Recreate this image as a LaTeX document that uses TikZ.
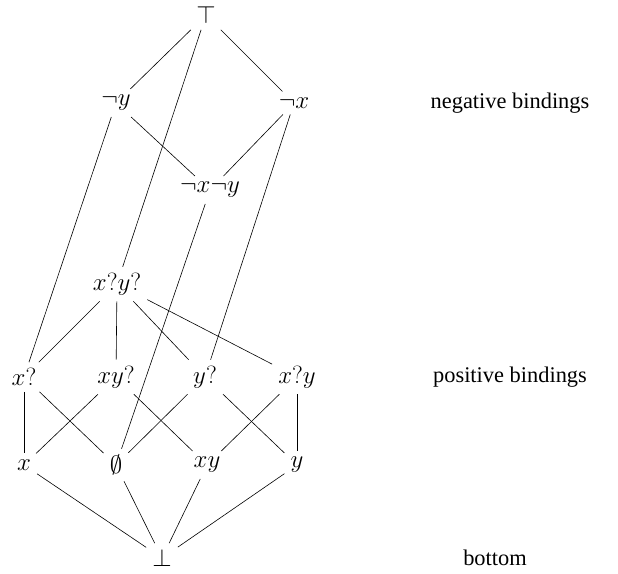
\documentclass[tikz,border=0pt]{standalone}
\usepackage{fontspec}
\setmainfont{Liberation Serif}
\begin{document}
\begin{tikzpicture}[x=1pt,y=-1pt,
  el/.style={inner sep=6pt,font=\fontsize{24}{28}\selectfont},
  lbl/.style={inner sep=0pt,font=\fontsize{22.4}{26}\selectfont},
  edge/.style={line width=0.6pt}]
\useasboundingbox (0,0) rectangle (618,573);
\node[el] (top) at (206,15) {$\top$};
\node[el] (ny) at (116,103) {$\neg y$};
\node[el] (nx) at (294,103) {$\neg x$};
\node[el] (nxny) at (210,190) {$\neg x\neg y$};
\node[el] (xqyq) at (117,284) {$x?y?$};
\node[el] (xq) at (24,377) {$x?$};
\node[el] (xyq) at (116,377) {$xy?$};
\node[el] (yq) at (205,377) {$y?$};
\node[el] (xqy) at (297,377) {$x?y$};
\node[el] (x) at (24,465) {$x$};
\node[el] (e) at (116,465) {$\emptyset$};
\node[el] (xy) at (207,465) {$xy$};
\node[el] (y) at (297,465) {$y$};
\node[el] (bot) at (162,558) {$\bot$};
\node[lbl] (l1) at (510,103) {negative bindings};
\node[lbl] (l2) at (510,377) {positive bindings};
\node[lbl] (l3) at (495,558) {bottom};
\draw[edge] (top) -- (ny);
\draw[edge] (top) -- (nx);
\draw[edge] (top) -- (xqyq);
\draw[edge] (ny) -- (nxny);
\draw[edge] (nx) -- (nxny);
\draw[edge] (ny) -- (xq);
\draw[edge] (nx) -- (yq);
\draw[edge] (nxny) -- (e);
\draw[edge] (xqyq) -- (xq);
\draw[edge] (xqyq) -- (xyq);
\draw[edge] (xqyq) -- (yq);
\draw[edge] (xqyq) -- (xqy);
\draw[edge] (xq) -- (x);
\draw[edge] (xq) -- (e);
\draw[edge] (xyq) -- (x);
\draw[edge] (xyq) -- (xy);
\draw[edge] (yq) -- (e);
\draw[edge] (yq) -- (y);
\draw[edge] (xqy) -- (xy);
\draw[edge] (xqy) -- (y);
\draw[edge] (x) -- (bot);
\draw[edge] (e) -- (bot);
\draw[edge] (xy) -- (bot);
\draw[edge] (y) -- (bot);
\end{tikzpicture}
\end{document}
